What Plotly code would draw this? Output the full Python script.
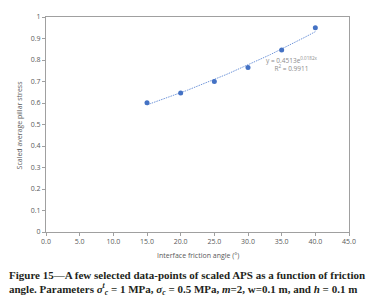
import numpy as np
import plotly.graph_objects as go

angles = [15, 20, 25, 30, 35, 40]
scaled_aps = [0.601, 0.647, 0.700, 0.765, 0.846, 0.950]
x_ticks = [0, 5, 10, 15, 20, 25, 30, 35, 40, 45]
x_tick_labels = ["0.0", "5.0", "10.0", "15.0", "20.0", "25.0", "30.0", "35.0", "40.0", "45.0"]
y_ticks = [0, 0.1, 0.2, 0.3, 0.4, 0.5, 0.6, 0.7, 0.8, 0.9, 1.0]
y_tick_labels = ["0", "0.1", "0.2", "0.3", "0.4", "0.5", "0.6", "0.7", "0.8", "0.9", "1"]
trend_text = "y = 0.4513e<sup>0.0182x</sup><br>R<sup>2</sup> = 0.9911"
x_title = "Interface friction angle (°)"
y_title = "Scaled average pillar stress"
caption1 = "<b>Figure 15—A few selected data-points of scaled APS as a function of friction</b>"
caption2 = ("<b>angle. Parameters <i>σ</i><sup><i>t</i></sup><sub><i>c</i></sub> = 1 MPa, "
            "<i>σ<sub>c</sub></i> = 0.5 MPa, <i>m</i>=2, w=0.1 m, and <i>h</i> = 0.1 m</b>")

# exponential trendline fitted to the data
b, ln_a = np.polyfit(angles, np.log(scaled_aps), 1)
tx = np.linspace(min(angles), max(angles), 80)
ty = np.exp(ln_a) * np.exp(b * tx)

fig = go.Figure()
fig.add_trace(go.Scatter(x=tx, y=ty, mode="lines",
                         line=dict(color="#6F95DA", width=1, dash="1.5px,1px"),
                         hoverinfo="skip", showlegend=False))
fig.add_trace(go.Scatter(x=angles, y=scaled_aps, mode="markers",
                         marker=dict(color="#4472C4", size=5),
                         showlegend=False))

axis_common = dict(showgrid=False, zeroline=False, showline=True, mirror=True,
                   linecolor="#A0A0A0", linewidth=1, ticks="outside", ticklen=3,
                   tickcolor="#A0A0A0", automargin=False,
                   tickfont=dict(family="Open Sans", size=7, color="#595959"))

fig.update_xaxes(range=[0, 45], tickvals=x_ticks, ticktext=x_tick_labels, **axis_common)
fig.update_yaxes(range=[0, 1], tickvals=y_ticks, ticktext=y_tick_labels, **axis_common)

title_font = dict(family="Open Sans", size=7, color="#595959")
fig.add_annotation(x=0.5, y=-0.11, xref="paper", yref="paper", text=x_title,
                   showarrow=False, xanchor="center", yanchor="middle", font=title_font)
fig.add_annotation(x=-0.086, y=0.5, xref="paper", yref="paper", text=y_title,
                   showarrow=False, textangle=-90, xanchor="center", yanchor="middle",
                   font=title_font)

fig.add_annotation(x=0.81, y=0.78, xref="paper", yref="paper", text=trend_text,
                   showarrow=False, align="center", xanchor="center", yanchor="middle",
                   font=dict(family="Open Sans", size=6.5, color="#8C8C8C"))

cap_font = dict(family="Liberation Serif", size=11, color="#231F20")
fig.add_annotation(x=-0.129, y=-0.200, xref="paper", yref="paper", text=caption1,
                   showarrow=False, xanchor="left", yanchor="middle", font=cap_font)
fig.add_annotation(x=-0.129, y=-0.265, xref="paper", yref="paper", text=caption2,
                   showarrow=False, xanchor="left", yanchor="middle", font=cap_font)

fig.update_layout(width=384, height=301, margin=dict(l=46, r=35, t=17, b=69),
                  paper_bgcolor="white", plot_bgcolor="white")
fig.write_html("out.html", config={"displayModeBar": False},
               post_script="document.body.style.margin='0';document.body.style.overflow='hidden';")
